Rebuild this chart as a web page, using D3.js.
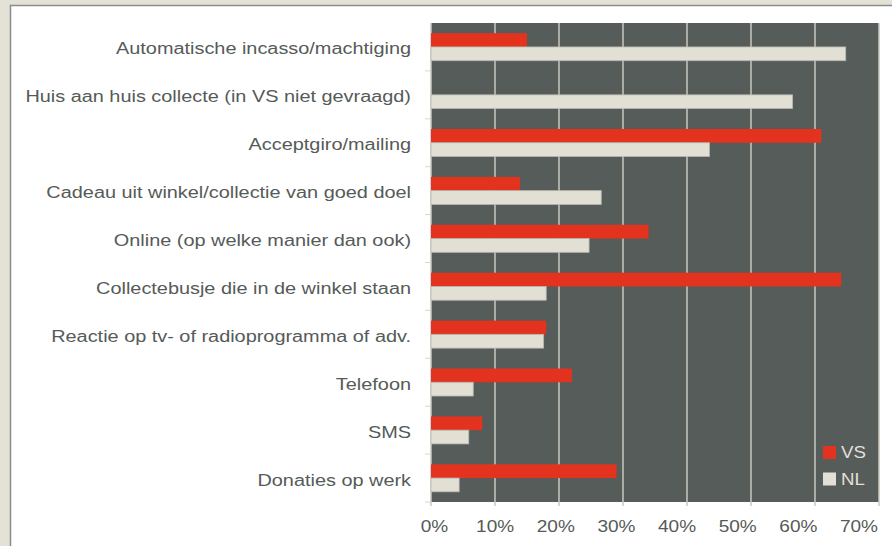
<!DOCTYPE html>
<html>
<head>
<meta charset="utf-8">
<script src="https://cdn.jsdelivr.net/npm/d3@7"></script>
<style>
  body { margin:0; background:#e4e1d7; }
  svg { display:block; }
</style>
</head>
<body>
<script>
var categories = [
  "Automatische incasso/machtiging",
  "Huis aan huis collecte (in VS niet gevraagd)",
  "Acceptgiro/mailing",
  "Cadeau uit winkel/collectie van goed doel",
  "Online (op welke manier dan ook)",
  "Collectebusje die in de winkel staan",
  "Reactie op tv- of radioprogramma of adv.",
  "Telefoon",
  "SMS",
  "Donaties op werk"
];
var seriesNames = ["VS", "NL"];
var vsValues = [15.0, 0, 61.0, 13.9, 34.0, 64.1, 18.0, 22.0, 8.0, 29.0];
var nlValues = [64.8, 56.5, 43.5, 26.6, 24.7, 18.0, 17.6, 6.6, 5.9, 4.4];
var tickValues = [0, 10, 20, 30, 40, 50, 60, 70];

var W = 892, H = 546,
    margin = {top:23, left:431, right:13, bottom:44},
    textCol = "#555b58",
    colors = {VS:"#e3331f", NL:"#e2dfd5"};

var svg = d3.select("body").append("svg")
    .attr("width", W).attr("height", H);

// outer frame and white panel
svg.append("rect").attr("width", W).attr("height", H).attr("fill", "#e4e1d7");
svg.append("rect")
    .attr("x", 10.5).attr("y", 5.5)
    .attr("width", W + 10).attr("height", H + 10)
    .attr("fill", "#fff").attr("stroke", "#8a8d8a").attr("stroke-width", 1.5);

var x = d3.scaleLinear().domain([0, 70]).range([margin.left, W - margin.right]);
// the tick labels sit a little tighter than the grid lines in the original
var xLabel = d3.scaleLinear().domain([0, 70]).range([434.5, 859]);
var y = d3.scaleBand().domain(categories).range([margin.top, H - margin.bottom]);
var y1 = d3.scaleBand().domain(seriesNames).range([0, y.bandwidth()]).paddingOuter(0.74);

// plot background
svg.append("rect")
    .attr("x", x(0)).attr("y", margin.top)
    .attr("width", x(70) - x(0)).attr("height", H - margin.bottom - margin.top)
    .attr("fill", "#555c5a");

// grid lines (plus small ticks below the axis)
svg.selectAll(".grid").data(tickValues).enter().append("line")
    .attr("class", "grid")
    .attr("x1", function(d){ return x(d); }).attr("x2", function(d){ return x(d); })
    .attr("y1", margin.top).attr("y2", H - margin.bottom + 4)
    .attr("stroke", "#c9c7be").attr("stroke-width", 1.5);

// category ticks on the left
svg.selectAll(".ytick").data(categories.slice(1)).enter().append("line")
    .attr("x1", x(0) - 6).attr("x2", x(0))
    .attr("y1", function(d){ return y(d); }).attr("y2", function(d){ return y(d); })
    .attr("stroke", "#d8d6cf").attr("stroke-width", 1);
svg.append("line")
    .attr("x1", x(0) - 6).attr("x2", x(0))
    .attr("y1", H - margin.bottom).attr("y2", H - margin.bottom)
    .attr("stroke", "#d8d6cf");

var rows = categories.map(function(c, i){ return {cat:c, VS:vsValues[i], NL:nlValues[i]}; });

var groups = svg.selectAll(".row").data(rows).enter().append("g")
    .attr("transform", function(d){ return "translate(0," + y(d.cat) + ")"; });

groups.selectAll("rect")
    .data(function(d){ return seriesNames.map(function(s){ return {s:s, v:d[s]}; }); })
    .enter().append("rect")
    .attr("x", x(0))
    .attr("y", function(d){ return y1(d.s); })
    .attr("width", function(d){ return x(d.v) - x(0); })
    .attr("height", y1.bandwidth())
    .attr("fill", function(d){ return colors[d.s]; })
    .attr("stroke", function(d){ return d.s == "NL" && d.v > 0 ? "#b9b7ae" : "none"; })
    .attr("stroke-width", 0.8);

// category labels
svg.selectAll(".catlabel").data(categories).enter().append("text")
    .attr("transform", function(d){ return "translate(411," + (y(d) + y.bandwidth()/2 + 7.5) + ") scale(1.15,1)"; })
    .attr("text-anchor", "end")
    .style("font-family", "Liberation Sans, Arial, sans-serif")
    .style("font-size", "17.3px")
    .attr("fill", textCol)
    .text(function(d){ return d; });

// x tick labels
svg.selectAll(".xlabel").data(tickValues).enter().append("text")
    .attr("transform", function(d){ return "translate(" + xLabel(d) + "," + 531.5 + ") scale(1.1,1)"; })
    .attr("text-anchor", "middle")
    .style("font-family", "Liberation Sans, Arial, sans-serif")
    .style("font-size", "17.3px")
    .attr("fill", textCol)
    .text(function(d){ return d + "%"; });

// legend
var legend = svg.selectAll(".legend").data(seriesNames).enter().append("g")
    .attr("transform", function(d, i){ return "translate(823," + (446 + i * 26.5) + ")"; });
legend.append("rect")
    .attr("width", 13).attr("height", 13)
    .attr("fill", function(d){ return colors[d]; });
legend.append("text")
    .attr("transform", "translate(18,12) scale(1.1,1)")
    .style("font-family", "Liberation Sans, Arial, sans-serif")
    .style("font-size", "17px")
    .attr("fill", "#e2dfd5")
    .text(function(d){ return d; });
</script>
</body>
</html>
